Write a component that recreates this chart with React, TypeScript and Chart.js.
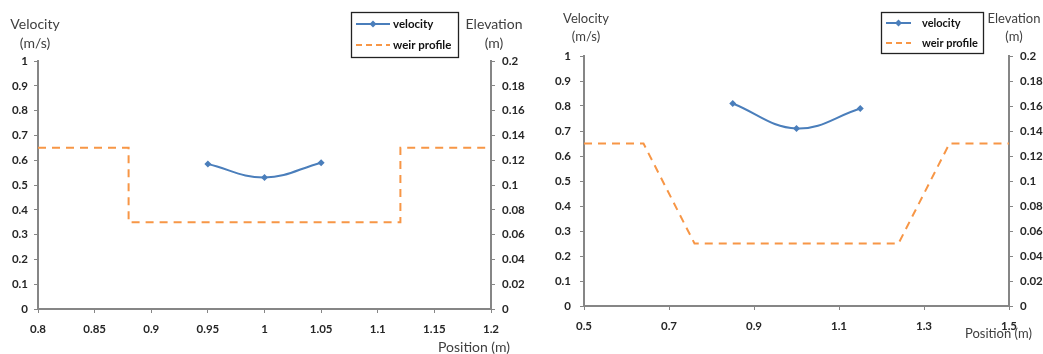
import React, { useEffect, useRef } from "react";
import { Chart, registerables } from "chart.js";
Chart.register(...registerables);

// ---- data: left chart ----
const leftPositions = [0.95, 1.0, 1.05];
const leftVelocity = [0.585, 0.53, 0.59];
const leftWeirX = [0.8, 0.88, 0.88, 1.12, 1.12, 1.2];
const leftWeirY = [0.13, 0.13, 0.07, 0.07, 0.13, 0.13];
const leftXTicks = [0.8, 0.85, 0.9, 0.95, 1, 1.05, 1.1, 1.15, 1.2];

// ---- data: right chart ----
const rightPositions = [0.85, 1.0, 1.15];
const rightVelocity = [0.81, 0.71, 0.79];
const rightWeirX = [0.5, 0.64, 0.76, 1.24, 1.36, 1.5];
const rightWeirY = [0.13, 0.13, 0.05, 0.05, 0.13, 0.13];
const rightXTicks = [0.5, 0.7, 0.9, 1.1, 1.3, 1.5];

const velocityTicks = [0, 0.1, 0.2, 0.3, 0.4, 0.5, 0.6, 0.7, 0.8, 0.9, 1];
const elevationTicks = [0, 0.02, 0.04, 0.06, 0.08, 0.1, 0.12, 0.14, 0.16, 0.18, 0.2];

const seriesNames = ["velocity", "weir profile"];
const BLUE = "#4a7ebb";
const ORANGE = "#f79646";
const AXIS = "#868686";
const FONT = "Lato";

type Geo = {
  canvasLeft: number;
  width: number;
  plotLeft: number;
  plotRight: number;
  plotTop: number;
  plotBottom: number;
  yPad: number;
  y2Pad: number;
  xPad: number;
  titleSize: number;
  legendSize: number;
  velTitle: [number, number, number];
  elevTitle: [number, number, number];
  legend: { x: number; y: number; w: number; h: number; rows: [number, number]; l1: number; l2: number; tx: number };
  posTitle: [number, number];
};

const fmt = (v: number) => String(Math.round(v * 1000) / 1000);

function makeConfig(
  positions: number[],
  velocity: number[],
  weirX: number[],
  weirY: number[],
  xTicks: number[],
  g: Geo
): any {
  const H = 354;
  const xAxisH = 30;
  const textPlugin = {
    id: "texts",
    afterDraw(chart: any) {
      const ctx = chart.ctx as CanvasRenderingContext2D;
      ctx.save();
      ctx.fillStyle = "#404040";
      ctx.font = `${g.titleSize}px ${FONT}`;
      ctx.textBaseline = "middle";
      ctx.textAlign = "center";
      ctx.fillText("Velocity", g.velTitle[0], g.velTitle[1]);
      ctx.fillText("(m/s)", g.velTitle[0], g.velTitle[2]);
      ctx.fillText("Elevation", g.elevTitle[0], g.elevTitle[1]);
      ctx.fillText("(m)", g.elevTitle[0], g.elevTitle[2]);
      ctx.textAlign = "left";
      ctx.fillText("Position (m)", g.posTitle[0], g.posTitle[1]);

      // legend
      const L = g.legend;
      ctx.fillStyle = "#ffffff";
      ctx.fillRect(L.x, L.y, L.w, L.h);
      ctx.strokeStyle = "#222";
      ctx.lineWidth = 1.3;
      ctx.strokeRect(L.x + 0.5, L.y + 0.5, L.w, L.h);
      // velocity sample
      ctx.strokeStyle = BLUE;
      ctx.lineWidth = 2;
      ctx.beginPath();
      ctx.moveTo(L.l1, L.rows[0]);
      ctx.lineTo(L.l2, L.rows[0]);
      ctx.stroke();
      const mx = (L.l1 + L.l2) / 2;
      ctx.fillStyle = BLUE;
      ctx.beginPath();
      ctx.moveTo(mx, L.rows[0] - 3.5);
      ctx.lineTo(mx + 3.5, L.rows[0]);
      ctx.lineTo(mx, L.rows[0] + 3.5);
      ctx.lineTo(mx - 3.5, L.rows[0]);
      ctx.closePath();
      ctx.fill();
      // weir sample
      ctx.strokeStyle = ORANGE;
      ctx.setLineDash([6, 4]);
      ctx.beginPath();
      ctx.moveTo(L.l1, L.rows[1]);
      ctx.lineTo(L.l2, L.rows[1]);
      ctx.stroke();
      ctx.setLineDash([]);
      ctx.fillStyle = "#111";
      ctx.font = `bold ${g.legendSize}px ${FONT}`;
      ctx.fillText(seriesNames[0], L.tx, L.rows[0]);
      ctx.fillText(seriesNames[1], L.tx, L.rows[1]);
      ctx.restore();
    },
  };

  const tickFont = { family: FONT, size: 11.5, weight: "bold" as const };
  const grid = {
    drawOnChartArea: false,
    drawTicks: true,
    tickLength: 4,
    color: AXIS,
    lineWidth: 1,
  };
  const border = { display: true, color: AXIS, width: 2 };

  return {
    type: "line",
    data: {
      datasets: [
        {
          label: seriesNames[0],
          data: positions.map((x, i) => ({ x, y: velocity[i] })),
          borderColor: BLUE,
          backgroundColor: BLUE,
          borderWidth: 2,
          pointStyle: "rectRot",
          pointRadius: 3.5,
          pointBorderWidth: 0,
          tension: 0.4,
          yAxisID: "y",
        },
        {
          label: seriesNames[1],
          data: weirX.map((x, i) => ({ x, y: weirY[i] })),
          borderColor: ORANGE,
          backgroundColor: ORANGE,
          borderWidth: 2,
          borderDash: [8, 6],
          pointRadius: 0,
          tension: 0,
          yAxisID: "y2",
        },
      ],
    },
    options: {
      animation: false,
      responsive: false,
      maintainAspectRatio: false,
      layout: {
        padding: {
          top: g.plotTop,
          left: 0,
          right: 0,
          bottom: H - g.plotBottom - xAxisH,
        },
      },
      plugins: { legend: { display: false }, tooltip: { enabled: false } },
      scales: {
        x: {
          type: "linear",
          min: xTicks[0],
          max: xTicks[xTicks.length - 1],
          grid,
          border,
          afterBuildTicks: (s: any) => {
            s.ticks = xTicks.map((v) => ({ value: v }));
          },
          afterFit: (s: any) => {
            s.height = xAxisH;
          },
          ticks: {
            font: tickFont,
            color: "#262626",
            padding: g.xPad,
            maxRotation: 0,
            autoSkip: false,
            callback: (v: number) => fmt(v),
          },
        },
        y: {
          position: "left",
          min: 0,
          max: 1,
          grid,
          border,
          afterBuildTicks: (s: any) => {
            s.ticks = velocityTicks.map((v) => ({ value: v }));
          },
          afterFit: (s: any) => {
            s.width = g.plotLeft;
          },
          ticks: {
            font: tickFont,
            color: "#262626",
            padding: g.yPad,
            callback: (v: number) => fmt(v),
          },
        },
        y2: {
          position: "right",
          min: 0,
          max: 0.2,
          grid,
          border,
          afterBuildTicks: (s: any) => {
            s.ticks = elevationTicks.map((v) => ({ value: v }));
          },
          afterFit: (s: any) => {
            s.width = g.width - g.plotRight;
          },
          ticks: {
            font: tickFont,
            color: "#262626",
            padding: g.y2Pad,
            callback: (v: number) => fmt(v),
          },
        },
      },
    },
    plugins: [textPlugin],
  };
}

const leftGeo: Geo = {
  canvasLeft: 0,
  width: 540,
  plotLeft: 38,
  plotRight: 491,
  plotTop: 61,
  plotBottom: 309,
  yPad: 6,
  y2Pad: 7,
  xPad: 9,
  titleSize: 14,
  legendSize: 11.5,
  velTitle: [35, 24, 43],
  elevTitle: [494, 24, 43],
  legend: { x: 351, y: 12, w: 107, h: 45, rows: [24, 45], l1: 356, l2: 390, tx: 393 },
  posTitle: [438, 347],
};

const rightGeo: Geo = {
  canvasLeft: 520,
  width: 523,
  plotLeft: 64,
  plotRight: 489,
  plotTop: 56,
  plotBottom: 306,
  yPad: 9,
  y2Pad: 7,
  xPad: 9,
  titleSize: 13,
  legendSize: 11,
  velTitle: [66, 19, 37],
  elevTitle: [494, 19, 37],
  legend: { x: 361, y: 12, w: 102, h: 41, rows: [23, 43], l1: 366, l2: 391, tx: 402 },
  posTitle: [445, 334],
};

function ChartBox(props: { cfg: () => any; geo: Geo }) {
  const ref = useRef<HTMLCanvasElement | null>(null);
  useEffect(() => {
    if (!ref.current) return;
    const chart = new Chart(ref.current, props.cfg());
    return () => chart.destroy();
  }, []);
  return (
    <canvas
      ref={ref}
      width={props.geo.width}
      height={354}
      style={{
        position: "absolute",
        left: props.geo.canvasLeft,
        top: 0,
        width: props.geo.width,
        height: 354,
      }}
    />
  );
}

export default function App() {
  return (
    <div
      style={{
        position: "absolute",
        left: 0,
        top: 0,
        width: 1043,
        height: 354,
        background: "#fff",
        overflow: "hidden",
      }}
    >
      <ChartBox
        geo={leftGeo}
        cfg={() => makeConfig(leftPositions, leftVelocity, leftWeirX, leftWeirY, leftXTicks, leftGeo)}
      />
      <ChartBox
        geo={rightGeo}
        cfg={() => makeConfig(rightPositions, rightVelocity, rightWeirX, rightWeirY, rightXTicks, rightGeo)}
      />
    </div>
  );
}
